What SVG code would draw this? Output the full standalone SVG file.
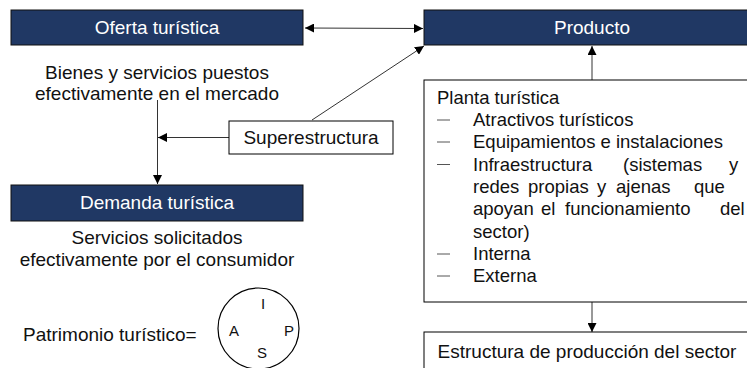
<svg xmlns="http://www.w3.org/2000/svg" width="747" height="368" viewBox="0 0 747 368">
<defs>
<marker id="ah" viewBox="0 0 10 10" refX="10" refY="5" markerWidth="9" markerHeight="9" markerUnits="userSpaceOnUse" orient="auto-start-reverse">
<path d="M0,0 L10,5 L0,10 z" fill="#000"/>
</marker>
<style>
.hdr{fill:#203864;stroke:#111;stroke-width:1}
.box{fill:#fff;stroke:#000;stroke-width:1}
.ht{font-family:"Liberation Sans",Arial,sans-serif;font-size:19px;fill:#fff;text-anchor:middle}
.t{font-family:"Liberation Sans",Arial,sans-serif;font-size:19px;fill:#111}
.p{font-size:18.5px}
.c{text-anchor:middle}
.s{font-family:"Liberation Sans",Arial,sans-serif;font-size:15px;fill:#111;text-anchor:middle}
.ln{stroke:#333;stroke-width:1;fill:none}
</style>
</defs>
<g id="connectors">
<line class="ln" x1="305" y1="28" x2="423" y2="28.5" marker-start="url(#ah)" marker-end="url(#ah)"/>
<line class="ln" x1="312" y1="120" x2="424" y2="46" marker-end="url(#ah)"/>
<line class="ln" x1="157.5" y1="100" x2="157.5" y2="184" marker-end="url(#ah)"/>
<line class="ln" x1="229" y1="137.5" x2="158" y2="137.5" marker-end="url(#ah)"/>
<line class="ln" x1="592" y1="80" x2="592" y2="46" marker-end="url(#ah)"/>
<line class="ln" x1="592" y1="302" x2="592" y2="332" marker-end="url(#ah)"/>
</g>
<g id="oferta">
<rect class="hdr" x="11" y="10" width="292" height="35"/>
<text class="ht" x="157" y="34">Oferta turística</text>
<text class="t c" x="157" y="79">Bienes y servicios puestos</text>
<text class="t c" x="157" y="100">efectivamente en el mercado</text>
</g>
<g id="producto">
<rect class="hdr" x="424" y="10" width="340" height="35"/>
<text class="ht" x="592" y="34">Producto</text>
</g>
<g id="superestructura">
<rect class="box" x="229" y="121" width="164" height="33"/>
<text class="t c" x="311" y="144">Superestructura</text>
</g>
<g id="demanda">
<rect class="hdr" x="11" y="185" width="292" height="36"/>
<text class="ht" x="157" y="209">Demanda turística</text>
<text class="t c" x="157" y="244">Servicios solicitados</text>
<text class="t c" x="157" y="266">efectivamente por el consumidor</text>
</g>
<g id="patrimonio">
<text class="t" x="23" y="341">Patrimonio turístico=</text>
<circle cx="258.5" cy="328.5" r="40.5" fill="none" stroke="#000" stroke-width="1.2"/>
<text class="s" x="263" y="309">I</text>
<text class="s" x="234" y="336">A</text>
<text class="s" x="289" y="336">P</text>
<text class="s" x="262" y="358">S</text>
</g>
<g id="planta">
<rect class="box" x="424" y="80" width="340" height="222"/>
<g class="t p">
<text x="437" y="104">Planta turística</text>
<text x="473" y="126">Atractivos turísticos</text>
<text x="473" y="148">Equipamientos e instalaciones</text>
<text y="171"><tspan x="473">Infraestructura</tspan><tspan x="623">(sistemas</tspan><tspan x="729">y</tspan></text>
<text y="193"><tspan x="473">redes</tspan><tspan x="528">propias</tspan><tspan x="597">y</tspan><tspan x="616">ajenas</tspan><tspan x="694">que</tspan></text>
<text y="215"><tspan x="473">apoyan</tspan><tspan x="541">el</tspan><tspan x="565">funcionamiento</tspan><tspan x="720">del</tspan></text>
<text x="473" y="238">sector)</text>
<text x="473" y="260">Interna</text>
<text x="473" y="282">Externa</text>
</g>
<g stroke="#555" stroke-width="1">
<line x1="437" y1="120" x2="450" y2="120"/>
<line x1="437" y1="142" x2="450" y2="142"/>
<line x1="437" y1="164.5" x2="450" y2="164.5"/>
<line x1="437" y1="254" x2="450" y2="254"/>
<line x1="437" y1="276" x2="450" y2="276"/>
</g>
</g>
<g id="estructura">
<rect class="box" x="424" y="332" width="340" height="50"/>
<text class="t c" x="587" y="358">Estructura de producción del sector</text>
</g>
</svg>
